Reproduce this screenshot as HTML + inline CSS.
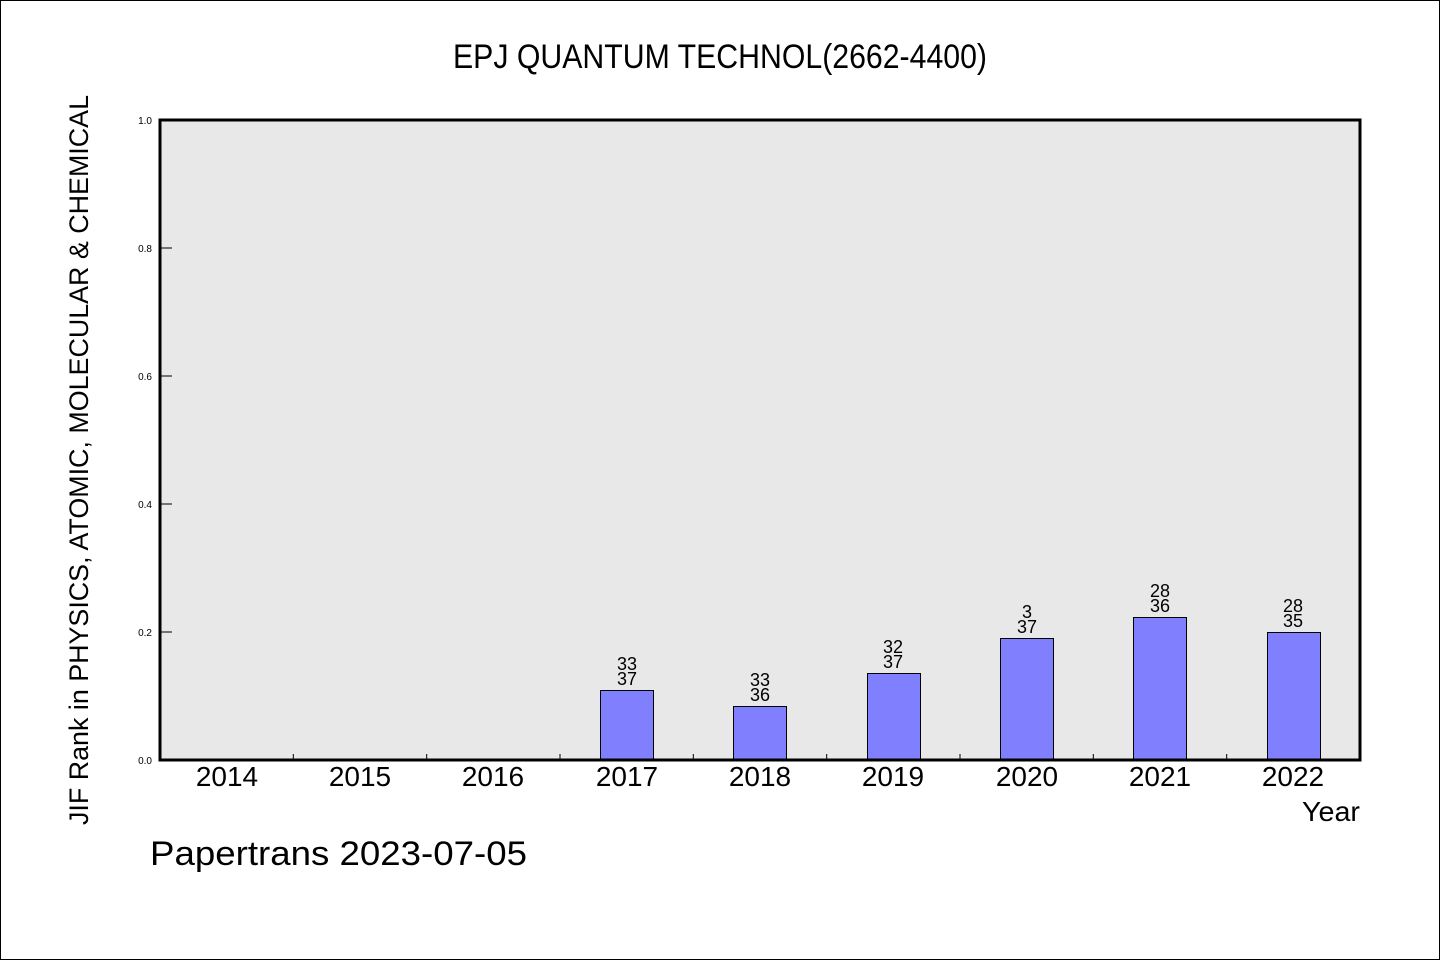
<!DOCTYPE html>
<html><head><meta charset="utf-8"><style>
html,body{margin:0;padding:0;background:#fff}
svg{display:block}
text{font-family:"Liberation Sans",sans-serif;fill:#000}
</style></head><body>
<svg width="1440" height="960" viewBox="0 0 1440 960" xmlns="http://www.w3.org/2000/svg">
<rect x="0.5" y="0.5" width="1439" height="959" fill="#fff" stroke="#000" stroke-width="1"/>
<text x="453" y="68" font-size="34" textLength="534" lengthAdjust="spacingAndGlyphs">EPJ QUANTUM TECHNOL(2662-4400)</text>
<rect x="160" y="120" width="1200" height="640" fill="#e8e8e8"/>
<g stroke="#000" stroke-width="1">
<line x1="160" y1="760" x2="172" y2="760"/>
<line x1="160" y1="632" x2="172" y2="632"/>
<line x1="160" y1="504" x2="172" y2="504"/>
<line x1="160" y1="376" x2="172" y2="376"/>
<line x1="160" y1="248" x2="172" y2="248"/>
<line x1="160" y1="120" x2="172" y2="120"/>
<line x1="293.3" y1="754" x2="293.3" y2="760"/>
<line x1="426.7" y1="754" x2="426.7" y2="760"/>
<line x1="560" y1="754" x2="560" y2="760"/>
<line x1="693.3" y1="754" x2="693.3" y2="760"/>
<line x1="826.7" y1="754" x2="826.7" y2="760"/>
<line x1="960" y1="754" x2="960" y2="760"/>
<line x1="1093.3" y1="754" x2="1093.3" y2="760"/>
<line x1="1226.7" y1="754" x2="1226.7" y2="760"/>
</g>
<g font-size="10" text-anchor="end">
<text x="152" y="764">0.0</text><text x="152" y="636">0.2</text><text x="152" y="508">0.4</text>
<text x="152" y="380">0.6</text><text x="152" y="252">0.8</text><text x="152" y="124">1.0</text>
</g>
<g fill="#8080ff" stroke="#000" stroke-width="1">
<rect x="600.5" y="690.5" width="53" height="70"/>
<rect x="733.5" y="706.5" width="53" height="54"/>
<rect x="867.5" y="673.5" width="53" height="87"/>
<rect x="1000.5" y="638.5" width="53" height="122"/>
<rect x="1133.5" y="617.5" width="53" height="143"/>
<rect x="1267.5" y="632.5" width="53" height="128"/>
</g>
<g font-size="18" text-anchor="middle">
<text x="627" y="670">33</text><text x="627" y="685">37</text>
<text x="760" y="686">33</text><text x="760" y="701">36</text>
<text x="893" y="653">32</text><text x="893" y="668">37</text>
<text x="1027" y="618">3</text><text x="1027" y="633">37</text>
<text x="1160" y="597">28</text><text x="1160" y="612">36</text>
<text x="1293" y="612">28</text><text x="1293" y="627">35</text>
</g>
<rect x="160" y="120" width="1200" height="640" fill="none" stroke="#000" stroke-width="3"/>
<g font-size="28" text-anchor="middle">
<text x="227" y="786">2014</text><text x="360" y="786">2015</text><text x="493" y="786">2016</text>
<text x="627" y="786">2017</text><text x="760" y="786">2018</text><text x="893" y="786">2019</text>
<text x="1027" y="786">2020</text><text x="1160" y="786">2021</text><text x="1293" y="786">2022</text>
</g>
<text x="1302" y="821" font-size="28" textLength="58" lengthAdjust="spacingAndGlyphs">Year</text>
<text x="150" y="865" font-size="34" textLength="377" lengthAdjust="spacingAndGlyphs">Papertrans 2023-07-05</text>
<text transform="translate(88,825) rotate(-90)" font-size="27" textLength="730" lengthAdjust="spacingAndGlyphs">JIF Rank in PHYSICS, ATOMIC, MOLECULAR &amp; CHEMICAL</text>
</svg>
</body></html>
